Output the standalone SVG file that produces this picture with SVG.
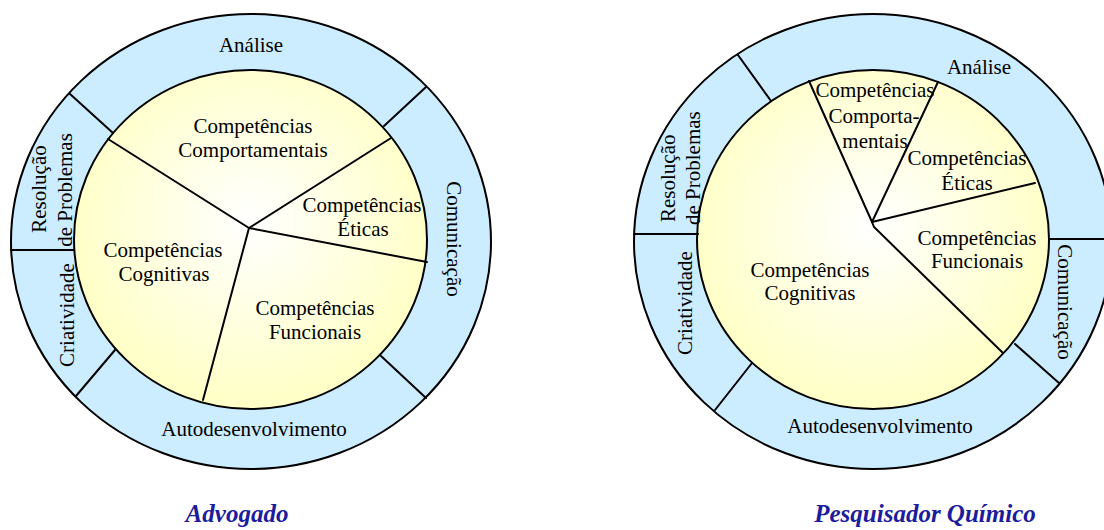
<svg xmlns="http://www.w3.org/2000/svg" width="1104" height="530" viewBox="0 0 1104 530">
  <style>
    .ring { fill: #CCECFF; stroke: #000; stroke-width: 2; }
    .core { stroke: #000; stroke-width: 2; }
    .div { stroke: #000; stroke-width: 2; fill: none; stroke-linecap: round; }
    text { font-family: 'Liberation Serif', 'Times New Roman', Times, serif; }
    .t { font-size: 21px; fill: #000; text-anchor: middle; }
    .ts { font-size: 21px; fill: #000; text-anchor: start; }
    .title { font-size: 25px; font-weight: bold; font-style: italic; fill: #1c1c9c; text-anchor: middle; }
  </style>
  <defs>
    <radialGradient id="coreL" gradientUnits="userSpaceOnUse" cx="250" cy="222" r="185">
      <stop offset="0" stop-color="#FFFFFF"/>
      <stop offset="1" stop-color="#FFFFC6"/>
    </radialGradient>
    <radialGradient id="coreR" gradientUnits="userSpaceOnUse" cx="872" cy="225" r="185">
      <stop offset="0" stop-color="#FFFFFF"/>
      <stop offset="1" stop-color="#FFFFC6"/>
    </radialGradient>
  </defs>

  <!-- Left wheel: Advogado -->
  <g id="wheel-advogado">
    <ellipse class="ring" cx="251" cy="241.5" rx="240" ry="227.5"/>
    <ellipse class="core" fill="url(#coreL)" cx="250.5" cy="239.5" rx="176.5" ry="169.5"/>
  </g>
  <g id="connectors-advogado">
    <!-- slice boundaries -->
    <path class="div" d="M249,228 L108,139"/>
    <path class="div" d="M249,228 L391,138"/>
    <path class="div" d="M249,228 L427,262"/>
    <path class="div" d="M249,228 L203,400"/>
    <!-- ring boundaries -->
    <path class="div" d="M70,94 L113,133"/>
    <path class="div" d="M426,87 L384,126"/>
    <path class="div" d="M381,356 L426,398"/>
    <path class="div" d="M115,350 L76,396"/>
    <path class="div" d="M11,250 L74,250"/>
  </g>
  <g id="labels-advogado" font-family="Liberation Serif, serif">
    <g id="L-analise"><text class="t" x="251" y="52">Análise</text></g>
    <g id="L-comunicacao"><text class="t" transform="translate(447,239) rotate(90)">Comunicação</text></g>
    <g id="L-autodesenvolvimento"><text class="t" x="254" y="436">Autodesenvolvimento</text></g>
    <g id="L-criatividade"><text class="t" transform="translate(74,315) rotate(-90)">Criatividade</text></g>
    <g id="L-resolucao">
      <text class="t" transform="translate(46,189) rotate(-90)">Resolução</text>
      <text class="t" transform="translate(72,190) rotate(-90)">de Problemas</text>
    </g>
    <g id="L-comportamentais">
      <text class="t" x="253" y="133">Competências</text>
      <text class="t" x="253" y="157">Comportamentais</text>
    </g>
    <g id="L-eticas">
      <text class="t" x="362" y="212">Competências</text>
      <text class="t" x="363" y="236">Éticas</text>
    </g>
    <g id="L-cognitivas">
      <text class="t" x="163" y="257">Competências</text>
      <text class="t" x="164" y="281">Cognitivas</text>
    </g>
    <g id="L-funcionais">
      <text class="t" x="315" y="315">Competências</text>
      <text class="t" x="315" y="339">Funcionais</text>
    </g>
    <g id="L-title"><text class="title" x="237" y="522">Advogado</text></g>
  </g>

  <!-- Right wheel: Pesquisador Químico -->
  <g id="wheel-pesquisador">
    <ellipse class="ring" cx="873" cy="241.5" rx="239" ry="227.5"/>
    <ellipse class="core" fill="url(#coreR)" cx="873" cy="239.5" rx="176" ry="169.5"/>
  </g>
  <g id="connectors-pesquisador">
    <!-- slice boundaries -->
    <path class="div" d="M872,222 L809,81"/>
    <path class="div" d="M872,222 L938,82"/>
    <path class="div" d="M872,222 L1035,183"/>
    <path class="div" d="M872,222 L874,227 L1003,353"/>
    <!-- ring boundaries -->
    <path class="div" d="M738,55 L771,101"/>
    <path class="div" d="M634,234 L698,234"/>
    <path class="div" d="M752,363 L715,410"/>
    <path class="div" d="M1015,344 L1059,383"/>
    <path class="div" d="M1050,239 L1110,239"/>
  </g>
  <g id="labels-pesquisador">
    <g id="R-analise"><text class="t" x="979" y="74">Análise</text></g>
    <g id="R-comunicacao"><text class="t" transform="translate(1058,302) rotate(90)">Comunicação</text></g>
    <g id="R-autodesenvolvimento"><text class="t" x="880" y="433">Autodesenvolvimento</text></g>
    <g id="R-criatividade"><text class="t" transform="translate(692,303) rotate(-90)">Criatividade</text></g>
    <g id="R-resolucao">
      <text class="ts" transform="translate(675,222) rotate(-90)">Resolução</text>
      <text class="ts" transform="translate(700,225) rotate(-90)">de Problemas</text>
    </g>
    <g id="R-comportamentais">
      <text class="t" x="875" y="97">Competências</text>
      <text class="t" x="874" y="123">Comporta-</text>
      <text class="t" x="875" y="148">mentais</text>
    </g>
    <g id="R-eticas">
      <text class="t" x="967" y="165">Competências</text>
      <text class="t" x="967" y="190">Éticas</text>
    </g>
    <g id="R-funcionais">
      <text class="t" x="977" y="245">Competências</text>
      <text class="t" x="977" y="268">Funcionais</text>
    </g>
    <g id="R-cognitivas">
      <text class="t" x="810" y="277">Competências</text>
      <text class="t" x="810" y="300">Cognitivas</text>
    </g>
    <g id="R-title"><text class="title" x="925" y="522">Pesquisador Químico</text></g>
  </g>
</svg>
